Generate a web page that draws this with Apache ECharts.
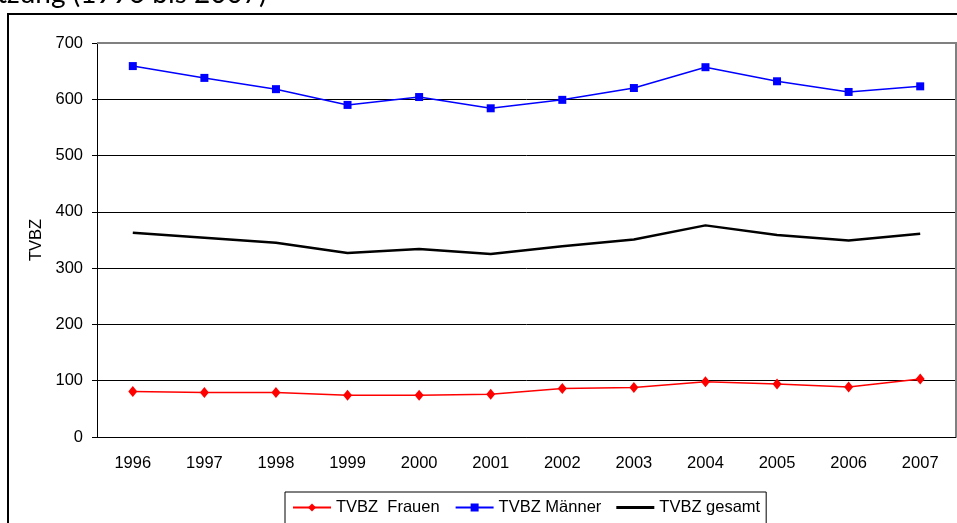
<!DOCTYPE html>
<html>
<head>
<meta charset="utf-8">
<style>html,body{margin:0;padding:0;background:#fff;}#c{width:957px;height:523px;}</style>
<script src="https://cdn.jsdelivr.net/npm/echarts@6/dist/echarts.min.js"></script>
</head>
<body>
<div id="c"></div>
<script>
var years = ['1996','1997','1998','1999','2000','2001','2002','2003','2004','2005','2006','2007'];
var frauen = [81, 79, 79, 74, 74, 76, 86, 88, 98, 94, 89, 103];
var maenner = [659, 638, 618, 590, 604, 584, 599, 620, 657, 632, 613, 623];
var gesamt = [363, 354, 345, 327, 334, 325, 339, 351, 376, 359, 349, 361];
var yTicks = [0, 100, 200, 300, 400, 500, 600, 700];

var chart = echarts.init(document.getElementById('c'));
var font = '"Liberation Sans", Arial, sans-serif';
var fs = 16.5;
chart.setOption({
  animation: false,
  backgroundColor: '#fff',
  grid: {left: 97, top: 43, right: 1, bottom: 86},
  graphic: [
    {type: 'text', left: -3, top: -20, z: 10,
     style: {text: 'tzung (1996 bis 2007)', font: '28px Lato, "Open Sans", sans-serif', fill: '#000'}},
    {type: 'rect', shape: {x: 8, y: 14, width: 960, height: 530}, z: 10,
     style: {fill: 'none', stroke: '#000', lineWidth: 2}},
    {type: 'polyline', z: 10, shape: {points: [[97, 43], [956, 43], [956, 437]]},
     style: {fill: 'none', stroke: '#808080', lineWidth: 2}}
  ],
  legend: {
    left: 285, top: 492,
    itemWidth: 38, itemHeight: 10, itemGap: 15,
    padding: [7, 6, 20, 7],
    borderColor: '#000', borderWidth: 1,
    textStyle: {fontFamily: font, fontSize: fs, color: '#000'},
    data: ['TVBZ  Frauen', 'TVBZ Männer', {name: 'TVBZ gesamt', icon: 'path://M0 0H40V3H0Z'}]
  },
  xAxis: {
    type: 'category', data: years, boundaryGap: true,
    axisLine: {lineStyle: {color: '#000', width: 1}},
    axisTick: {length: 5, lineStyle: {color: '#000'}},
    axisLabel: {color: '#000', fontFamily: font, fontSize: fs, margin: 18}
  },
  yAxis: {
    type: 'value', min: yTicks[0], max: yTicks[yTicks.length - 1], interval: 100,
    name: 'TVBZ', nameLocation: 'middle', nameGap: 51, nameRotate: 90,
    nameTextStyle: {color: '#000', fontFamily: font, fontSize: fs},
    axisLine: {show: true, lineStyle: {color: '#000', width: 1}},
    axisTick: {show: true, length: 5, lineStyle: {color: '#000'}},
    axisLabel: {color: '#000', fontFamily: font, fontSize: fs, margin: 14},
    splitLine: {lineStyle: {color: '#000', width: 1}}
  },
  series: [
    {name: 'TVBZ  Frauen', type: 'line', data: frauen, color: '#ff0000',
     symbol: 'diamond', symbolSize: [9, 11], lineStyle: {width: 1.5, color: '#ff0000'},
     itemStyle: {color: '#ff0000'}},
    {name: 'TVBZ Männer', type: 'line', data: maenner, color: '#0000ff',
     symbol: 'rect', symbolSize: 8, lineStyle: {width: 1.5, color: '#0000ff'},
     itemStyle: {color: '#0000ff'}},
    {name: 'TVBZ gesamt', type: 'line', data: gesamt, color: '#000',
     symbol: 'none', lineStyle: {width: 2.5, color: '#000'}}
  ]
});
</script>
</body>
</html>
